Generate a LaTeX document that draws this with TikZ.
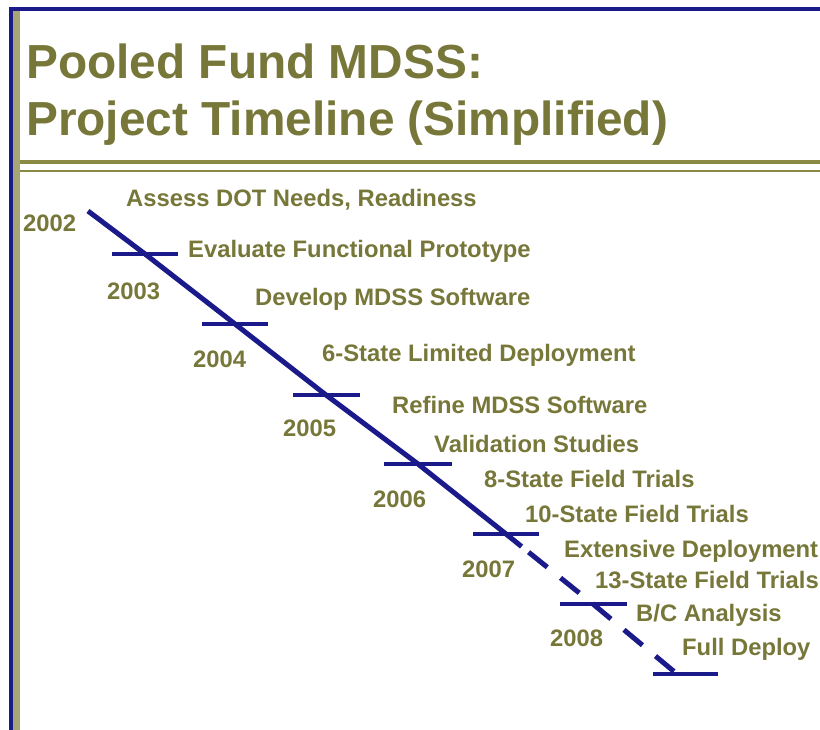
\documentclass[tikz,border=0pt]{standalone}
\usepackage{fontspec}
\setmainfont{Liberation Sans}
\usetikzlibrary{calc}
\definecolor{navy}{HTML}{1A1A8A}
\definecolor{olive}{HTML}{77773A}
\definecolor{oliverule}{HTML}{8A8A44}
\definecolor{olivestrip}{HTML}{A6A674}

\begin{document}
\begin{tikzpicture}[x=1pt,y=-1pt,font=\bfseries\fontsize{23.8}{28}\selectfont,title/.style={text=olive,anchor=base west,inner sep=0pt,font=\bfseries\fontsize{47.8}{57}\selectfont},year/.style={text=olive,anchor=base west,inner sep=0pt},event/.style={text=olive,anchor=base west,inner sep=0pt},axis/.style={navy,line width=5pt},tickmark/.style={navy,line width=4.5pt}]
\useasboundingbox[fill=white] (0,0) rectangle (820,730);
% frame and title rules
\fill[olivestrip] (13,11) rectangle (20,730);
\draw[navy,line width=4pt] (11,730) -- (11,9) -- (820,9);
\draw[oliverule,line width=4.5pt] (20,162) -- (820,162);
\draw[oliverule,line width=1.5pt] (20,171) -- (820,171);
\node[title] (head1) at (26,79) {Pooled Fund MDSS:};
\node[title] (head2) at (26,136) {Project Timeline (Simplified)};
% timeline
\coordinate (t2002) at (88,211);
\coordinate (t2003) at (145,254);
\coordinate (t2004) at (235,324);
\coordinate (t2005) at (326,395);
\coordinate (t2006) at (418,464);
\coordinate (t2007) at (506,534);
\coordinate (t2008) at (593,604);
\coordinate (tfin) at (677,674);
\coordinate (dstart) at ($(t2007)!20pt!(t2008)$);
\draw[axis] (t2002) -- (t2003) -- (t2004) -- (t2005) -- (t2006) -- (t2007) -- (dstart);
\draw[axis,dash pattern=on 24pt off 17pt,dash phase=32pt] (dstart) -- (t2008) -- (tfin);
\draw[tickmark] ([xshift=-33]t2003) -- ([xshift=33]t2003);
\draw[tickmark] ([xshift=-33]t2004) -- ([xshift=33]t2004);
\draw[tickmark] ([xshift=-33]t2005) -- ([xshift=34]t2005);
\draw[tickmark] ([xshift=-34]t2006) -- ([xshift=34]t2006);
\draw[tickmark] ([xshift=-33]t2007) -- ([xshift=33]t2007);
\draw[tickmark] ([xshift=-33]t2008) -- ([xshift=34]t2008);
\draw[tickmark] ([xshift=-24]tfin) -- ([xshift=41]tfin);
% years
\node[year] (y2002) at (23,232) {2002};
\node[year] (y2003) at (107,300) {2003};
\node[year] (y2004) at (193,367) {2004};
\node[year] (y2005) at (283,436) {2005};
\node[year] (y2006) at (373,507) {2006};
\node[year] (y2007) at (462,577) {2007};
\node[year] (y2008) at (550,646) {2008};
% milestones
\node[event] (e1) at (126,207) {Assess DOT Needs, Readiness};
\node[event] (e2) at (188,258) {Evaluate Functional Prototype};
\node[event] (e3) at (255,306) {Develop MDSS Software};
\node[event] (e4) at (322,362) {6-State Limited Deployment};
\node[event] (e5) at (392,413) {Refine MDSS Software};
\node[event] (e6) at (434,452) {Validation Studies};
\node[event] (e7) at (484,487) {8-State Field Trials};
\node[event] (e8) at (525,522) {10-State Field Trials};
\node[event] (e9) at (564,557) {Extensive Deployment};
\node[event] (e10) at (595,588) {13-State Field Trials};
\node[event] (e11) at (636,621) {B/C Analysis};
\node[event] (e12) at (682,655) {Full Deploy};
\end{tikzpicture}
\end{document}
